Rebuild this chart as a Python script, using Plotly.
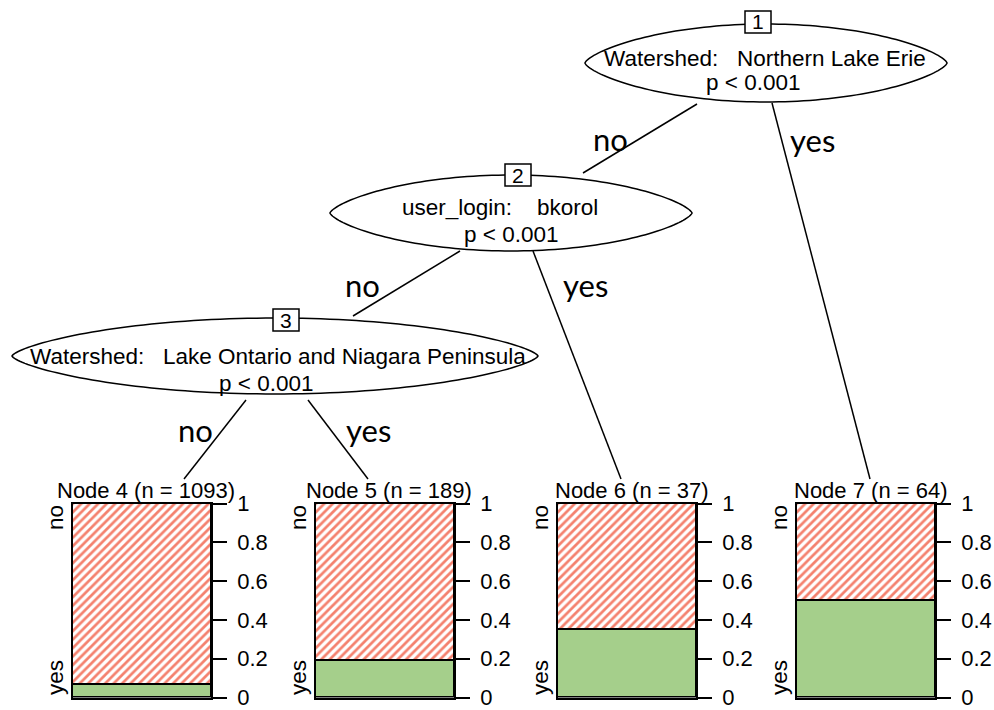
import numpy as np
import plotly.graph_objects as go

# ---------------- data ----------------
leaf_ids = [4, 5, 6, 7]
leaf_n = [1093, 189, 37, 64]
leaf_yes = [0.069, 0.19, 0.35, 0.50]          # proportion of "yes"
leaf_no = [1 - v for v in leaf_yes]            # proportion of "no"
class_names = ["no", "yes"]
tick_vals = [0, 0.2, 0.4, 0.6, 0.8, 1]
tick_text = ["0", "0.2", "0.4", "0.6", "0.8", "1"]

inner_ids = [1, 2, 3]
inner_split = ["Watershed:   Northern Lake Erie",
               "user_login:    bkorol",
               "Watershed:   Lake Ontario and Niagara Peninsula"]
inner_p = ["p < 0.001", "p < 0.001", "p < 0.001"]
edge_labels = ["no", "yes", "no", "yes", "no", "yes"]   # 1-2, 1-7, 2-3, 2-6, 3-4, 3-5

# ---------------- layout (pixel geometry) ----------------
W, H = 994, 710
def px(x): return x / W
def py(y): return 1 - y / H

GREEN = "#a5cf8b"
RED = "#f4816e"
FONT = "Liberation Sans, Arial, sans-serif"
EFONT = "Lato, Open Sans, sans-serif"

bar_left = [73, 316, 558, 797]
bar_w = 138
bar_top, bar_bot = 503.5, 697.5

# inner node geometry: ellipse center, radii, box center, text line centers
ell = [(766, 63, 181, 39), (511, 213, 181, 38), (275, 356, 263, 38)]
box_c = [(758, 22), (518, 175), (286, 320)]
line1_c = [(765, 58), (500, 207), (278, 356)]
line2_c = [(753, 83), (511, 234), (266, 384)]

edges = [((697, 104), (583, 173)), ((772, 103), (870, 479)),
         ((460, 251), (353, 316)), ((533, 251), (621, 479)),
         ((246, 400), (184, 479)), ((308, 400), (368, 479))]
edge_lab_pos = [(610, 139), (812, 140), (362, 285), (585, 285), (195, 430), (368, 430)]

fig = go.Figure()
layout = dict(width=W, height=H,
              margin=dict(l=0, r=0, t=0, b=0, pad=0, autoexpand=False),
              paper_bgcolor="white", plot_bgcolor="rgba(0,0,0,0)",
              barmode="stack", bargap=0, showlegend=False, template="none")

annotations = []
shapes = []

for i, nid in enumerate(leaf_ids):
    k = i + 1
    xa, ya = f"x{k}", f"y{k}"
    fig.add_trace(go.Bar(x=[0], y=[leaf_yes[i]], xaxis=xa, yaxis=ya, width=1,
                         marker=dict(color=GREEN, line=dict(color="black", width=1.5)),
                         hoverinfo="skip"))
    fig.add_trace(go.Bar(x=[0], y=[leaf_no[i]], xaxis=xa, yaxis=ya, width=1,
                         marker=dict(color=RED, line=dict(color="black", width=1.5),
                                     pattern=dict(shape="/", fillmode="replace", bgcolor="white",
                                                  fgcolor=RED, size=6, solidity=0.45)),
                         hoverinfo="skip"))
    l = bar_left[i]
    layout[f"xaxis{k}"] = dict(domain=[px(l), px(l + bar_w)], range=[-0.5, 0.5],
                               showline=True, mirror=True, linecolor="black", linewidth=1.5,
                               showticklabels=False, ticks="", showgrid=False, zeroline=False,
                               anchor=ya, fixedrange=True, automargin=False)
    layout[f"yaxis{k}"] = dict(domain=[py(bar_bot), py(bar_top)], range=[0, 1],
                               side="right", anchor=xa, ticks="outside", ticklen=14,
                               tickwidth=1.5, tickcolor="black", tickvals=tick_vals,
                               ticktext=tick_text, ticklabelstandoff=6,
                               ticklabeloverflow="allow", automargin=False,
                               tickfont=dict(family=FONT, size=22, color="black"),
                               showline=True, mirror=True, linecolor="black", linewidth=1.5,
                               showgrid=False, zeroline=False, fixedrange=True)
    # node title
    annotations.append(dict(xref="paper", yref="paper", x=px(l + bar_w / 2 + 4), y=py(490),
                            text=f"Node {nid} (n = {leaf_n[i]})", showarrow=False,
                            xanchor="center", yanchor="middle", borderpad=0,
                            font=dict(family=FONT, size=22, color="black")))
    # class labels rotated at left
    annotations.append(dict(xref="paper", yref=ya, x=px(l - 18), y=1, text=class_names[0],
                            textangle=-90, showarrow=False, xanchor="center", yanchor="top",
                            font=dict(family=FONT, size=22.5, color="black")))
    annotations.append(dict(xref="paper", yref=ya, x=px(l - 18), y=0, text=class_names[1],
                            textangle=-90, showarrow=False, xanchor="center", yanchor="bottom",
                            font=dict(family=FONT, size=22.5, color="black")))

# edges
for (a, b) in edges:
    shapes.append(dict(type="line", xref="paper", yref="paper",
                       x0=px(a[0]), y0=py(a[1]), x1=px(b[0]), y1=py(b[1]),
                       line=dict(color="black", width=1.5)))

# inner node ellipses (slightly pointed ends, as drawn by partykit)
t = np.linspace(0, 2 * np.pi, 181)
for j, nid in enumerate(inner_ids):
    cx, cy, rx, ry = ell[j]
    xs = cx + rx * np.cos(t)
    ys = cy + ry * np.sign(np.sin(t)) * np.abs(np.sin(t)) ** 1.4
    path = "M " + " L ".join(f"{px(x):.5f},{py(y):.5f}" for x, y in zip(xs, ys)) + " Z"
    shapes.append(dict(type="path", xref="paper", yref="paper", path=path,
                       line=dict(color="black", width=1.5), fillcolor="white"))
    bx, by = box_c[j]
    shapes.append(dict(type="rect", xref="paper", yref="paper",
                       x0=px(bx - 13), x1=px(bx + 13), y0=py(by + 11), y1=py(by - 11),
                       line=dict(color="black", width=1.5), fillcolor="white"))
    annotations.append(dict(xref="paper", yref="paper", x=px(bx), y=py(by), text=str(nid),
                            showarrow=False, xanchor="center", yanchor="middle",
                            font=dict(family=FONT, size=21, color="black")))
    annotations.append(dict(xref="paper", yref="paper", x=px(line1_c[j][0]), y=py(line1_c[j][1]),
                            text=inner_split[j].replace(" ", "\u00a0"), showarrow=False,
                            xanchor="center", yanchor="middle",
                            font=dict(family=FONT, size=22.5, color="black")))
    annotations.append(dict(xref="paper", yref="paper", x=px(line2_c[j][0]), y=py(line2_c[j][1]),
                            text=inner_p[j].replace(" ", "\u00a0"), showarrow=False,
                            xanchor="center", yanchor="middle",
                            font=dict(family=FONT, size=22.5, color="black")))

# edge labels
for lab, (x, y) in zip(edge_labels, edge_lab_pos):
    annotations.append(dict(xref="paper", yref="paper", x=px(x), y=py(y), text=lab,
                            showarrow=False, xanchor="center", yanchor="middle",
                            font=dict(family=EFONT, size=31, color="black")))

layout["shapes"] = shapes
layout["annotations"] = annotations
fig.update_layout(**layout)

fig.write_html("out.html", post_script="document.body.style.margin='0';",
               config={"displayModeBar": False})
